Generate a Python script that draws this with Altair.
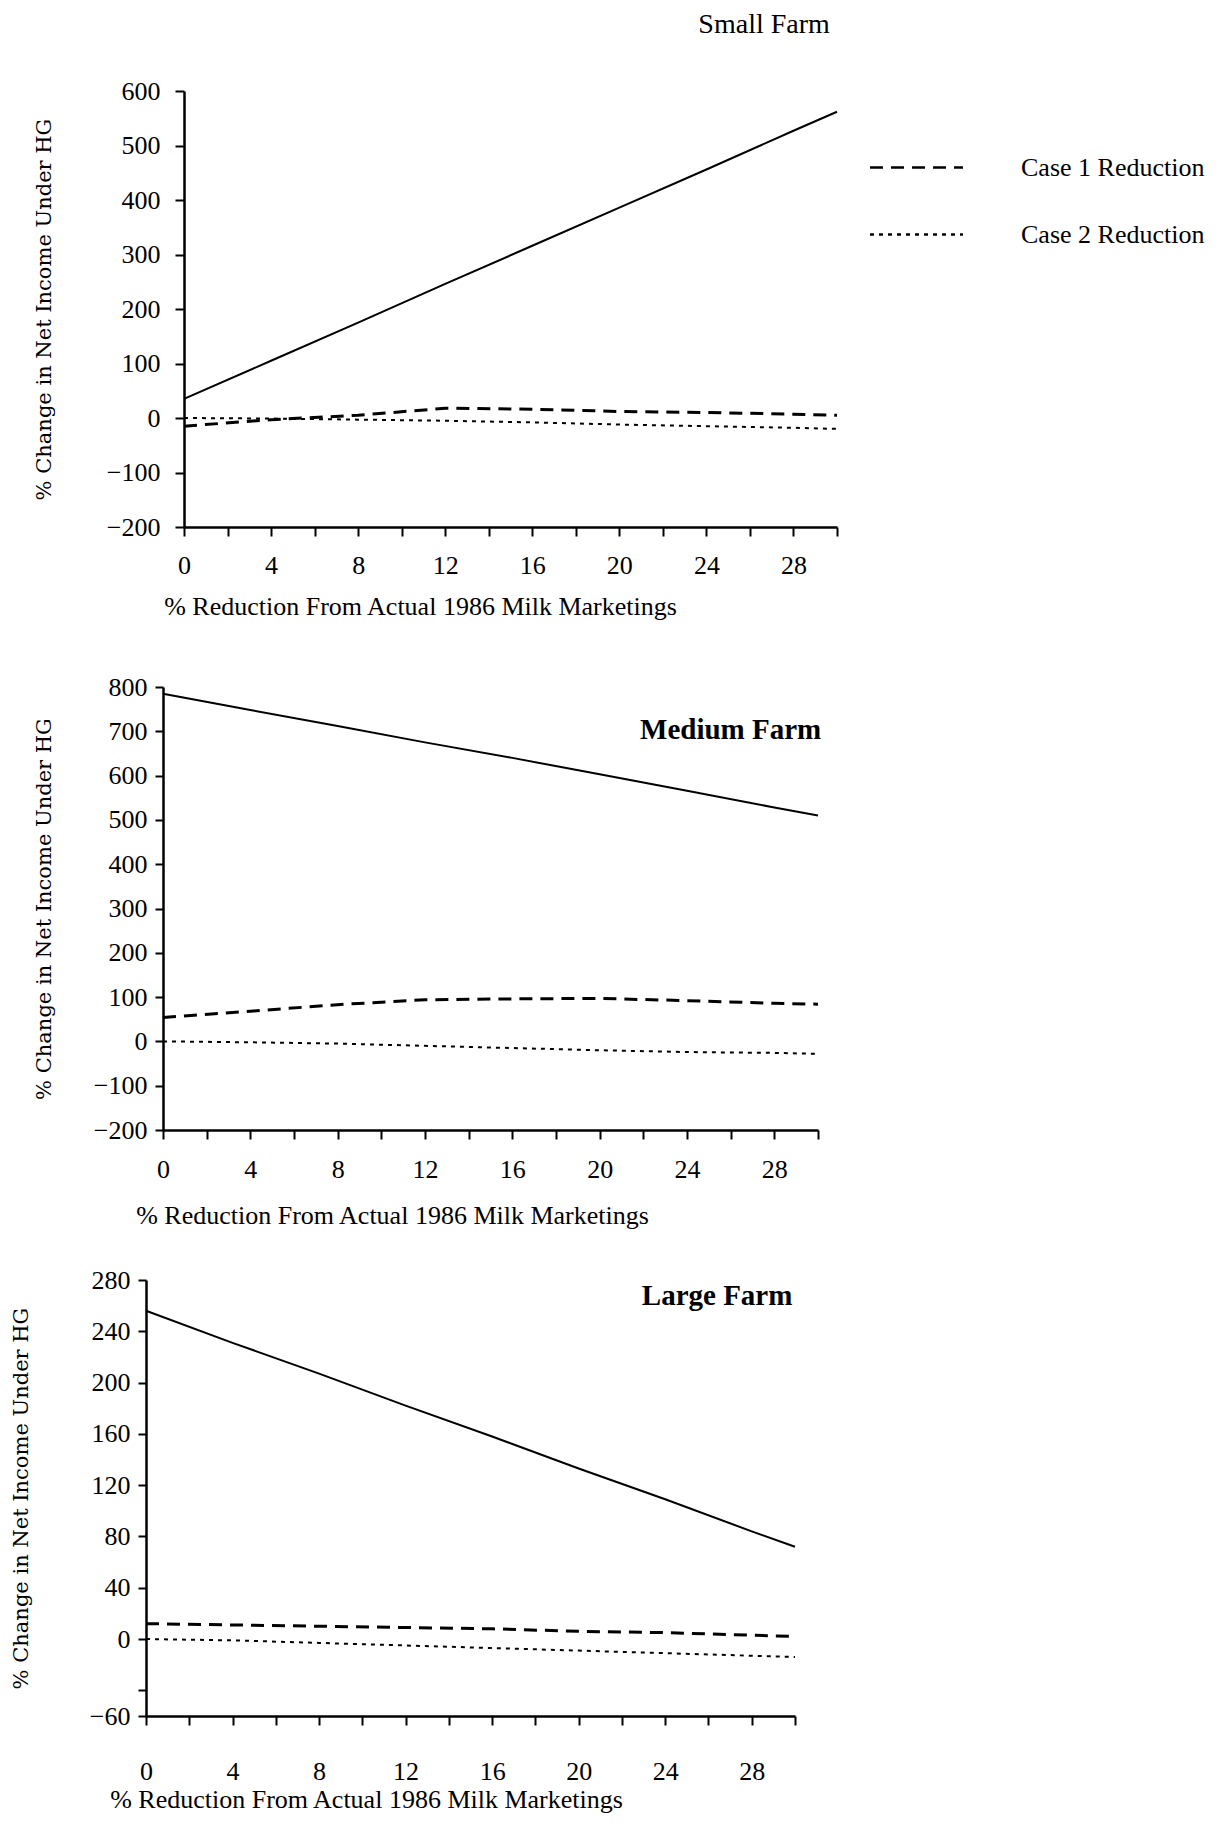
import altair as alt
import pandas as pd

# ---------------- data ----------------
x_pct = [0, 4, 8, 12, 16, 20, 24, 28, 30]

small_solid = [35, 105, 175, 246, 316, 386, 456, 527, 562]
small_case1 = [-15, -3, 5, 18, 16, 12, 10, 7, 5]
small_case2 = [0, -1, -3, -5, -8, -12, -15, -18, -20]

medium_solid = [785, 748, 712, 675, 640, 603, 566, 528, 510]
medium_case1 = [54, 68, 83, 94, 96, 97, 92, 86, 84]
medium_case2 = [0, -2, -5, -10, -15, -20, -24, -26, -28]

large_solid = [256, 231, 207, 182, 158, 133, 109, 84, 72]
large_case1 = [12, 11, 10, 9, 8, 6, 5, 3, 2]
large_case2 = [0, -1, -3, -5, -7, -9, -11, -13, -14]

series_names = ["Solid", "Case 1 Reduction", "Case 2 Reduction"]
panel_names = ["Small Farm", "Medium Farm", "Large Farm"]

x_ticks = list(range(0, 31, 2))
small_yticks = list(range(-200, 601, 100))
medium_yticks = list(range(-200, 801, 100))
large_yticks = [-60, -40, 0, 40, 80, 120, 160, 200, 240, 280]

Y_TITLE = "% Change in Net Income Under HG"
X_TITLE = "% Reduction From Actual 1986 Milk Marketings"

# ---------------- layout / style ----------------
W, H = 1200, 1808
SERIF = "Liberation Serif"

dash_scale = alt.Scale(domain=series_names[1:], range=[[13, 8], [4, 5]])
legend = alt.Legend(
    title=None, orient="none", legendX=876, legendY=127, padding=0,
    symbolType="M-1.5,0H1.5", symbolSize=3844, symbolStrokeWidth=2.5,
    symbolStrokeColor="black", symbolFillColor="transparent",
    labelFont=SERIF, labelFontSize=26, labelColor="black",
    labelOffset=72, labelLimit=400, rowPadding=21,
)


def make_df(solid, c1, c2):
    rows = []
    for x, a, b, c in zip(x_pct, solid, c1, c2):
        rows.append({"pct": x, "value": a, "series": series_names[0]})
        rows.append({"pct": x, "value": b, "series": series_names[1]})
        rows.append({"pct": x, "value": c, "series": series_names[2]})
    return pd.DataFrame(rows)


def panel(df, name, name_pos, name_style, ydom, xr, yr, yvals, y_axis_kw, x_axis_kw, ylabel_expr=None):
    yaxis_args = dict(
        orient="left", values=yvals, title=Y_TITLE,
        titleFont="DejaVu Serif", titleFontSize=21, titleFontWeight="normal",
        titleColor="black", titleAngle=270, titleBaseline="middle", titleAlign="center",
        labelFont=SERIF, labelFontSize=26, labelColor="black",
        tickColor="black", tickWidth=2, domainColor="black", domainWidth=2.5,
        grid=False, labelOverlap=False, labelFlush=False,
    )
    yaxis_args.update(y_axis_kw)
    if ylabel_expr:
        yaxis_args["labelExpr"] = ylabel_expr
    xaxis_args = dict(
        orient="bottom", values=x_ticks,
        labelExpr="datum.value % 4 == 0 && datum.value < 30 ? datum.label : ''",
        title=X_TITLE, titleFont=SERIF, titleFontSize=26, titleFontWeight="normal",
        titleColor="black", titleBaseline="middle", titleAlign="center",
        labelFont=SERIF, labelFontSize=26, labelColor="black", labelBaseline="middle",
        tickColor="black", tickWidth=2, tickSize=9, domainColor="black", domainWidth=2.5,
        grid=False, labelOverlap=False, labelFlush=False,
    )
    xaxis_args.update(x_axis_kw)

    xenc = alt.X("pct:Q", scale=alt.Scale(domain=[0, 30], range=xr, nice=False, zero=False),
                 axis=alt.Axis(**xaxis_args))
    yenc = alt.Y("value:Q", scale=alt.Scale(domain=ydom, range=yr, nice=False, zero=False),
                 axis=alt.Axis(**yaxis_args))
    base = alt.Chart(df)
    solid = base.transform_filter(alt.datum.series == series_names[0]).mark_line(
        color="black", strokeWidth=2).encode(x=xenc, y=yenc)
    c1 = base.transform_filter(alt.datum.series == series_names[1]).mark_line(
        color="black", strokeWidth=3).encode(
        x=xenc, y=yenc, strokeDash=alt.StrokeDash("series:N", scale=dash_scale, legend=legend))
    c2 = base.transform_filter(alt.datum.series == series_names[2]).mark_line(
        color="black", strokeWidth=2).encode(
        x=xenc, y=yenc, strokeDash=alt.StrokeDash("series:N", scale=dash_scale, legend=legend))
    lab = alt.Chart(pd.DataFrame({"pct": [name_pos[0]], "value": [name_pos[1]], "label": [name]})).mark_text(
        color="black", align="center", baseline="middle", **name_style).encode(x=xenc, y=yenc, text="label:N")
    return alt.layer(solid, c1, c2, lab)


p1 = panel(make_df(small_solid, small_case1, small_case2), panel_names[0], (26.65, 722),
           dict(font=SERIF, fontSize=28, fontWeight="normal"),
           [-200, 600], [176, 829], [519, 83], small_yticks,
           dict(offset=-176, titleX=-140, tickSize=9, labelPadding=15),
           dict(offset=519 - H, titleX=412, titleY=79, labelPadding=29))

p2 = panel(make_df(medium_solid, medium_case1, medium_case2), panel_names[1], (26.0, 703),
           dict(font=SERIF, fontSize=29, fontWeight="bold"),
           [-200, 800], [155, 810], [1122, 679], medium_yticks,
           dict(offset=-155, titleX=-119, tickSize=8, labelPadding=8),
           dict(offset=1122 - H, titleX=384, titleY=85, labelPadding=30))

p3 = panel(make_df(large_solid, large_case1, large_case2), panel_names[2], (26.4, 267.5),
           dict(font=SERIF, fontSize=29, fontWeight="bold"),
           [-60, 280], [138, 787], [1708, 1272], large_yticks,
           dict(offset=-138, titleX=-125, tickSize=8, labelPadding=8),
           dict(offset=1708 - H, titleX=358, titleY=83, labelPadding=46),
           ylabel_expr="datum.value == -40 ? '' : datum.label")

chart = alt.layer(p1, p2, p3).resolve_scale(
    x="independent", y="independent"
).resolve_axis(
    x="independent", y="independent"
).properties(
    width=W, height=H, padding=0, autosize=alt.AutoSizeParams(type="none"),
    background="white",
).configure_view(stroke=None)

chart.save("out.html", embed_options={"renderer": "svg", "actions": False})
